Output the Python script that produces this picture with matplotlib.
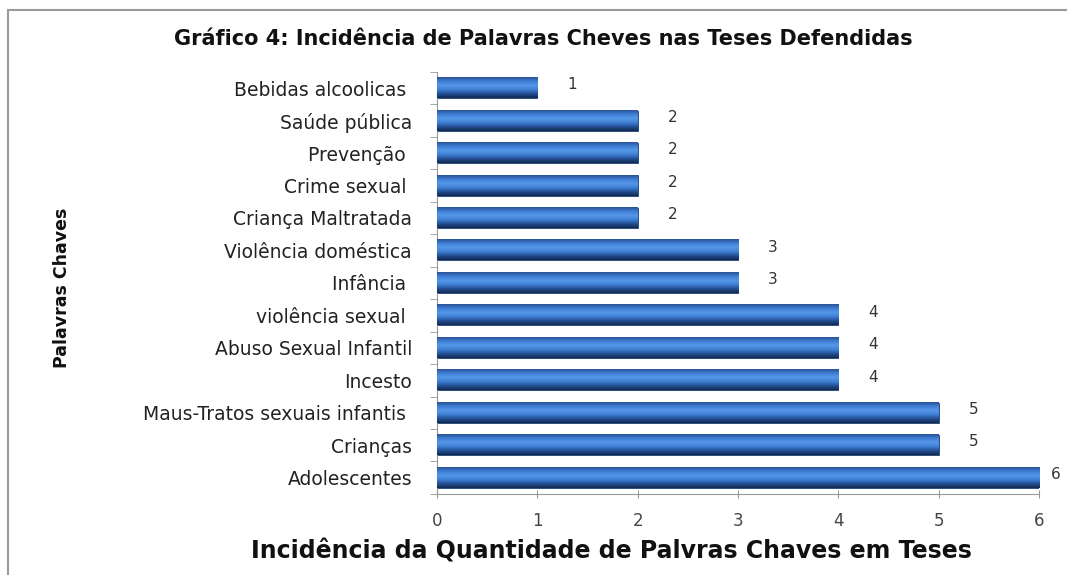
import numpy as np
import matplotlib.pyplot as plt
from matplotlib.patches import Rectangle
from matplotlib.colors import LinearSegmentedColormap

# keywords from top to bottom as in the chart
keywords = [
    "Bebidas alcoolicas ",
    "Saúde pública",
    "Prevenção ",
    "Crime sexual ",
    "Criança Maltratada",
    "Violência doméstica",
    "Infância ",
    "violência sexual ",
    "Abuso Sexual Infantil",
    "Incesto",
    "Maus-Tratos sexuais infantis ",
    "Crianças",
    "Adolescentes",
]
counts = [1, 2, 2, 2, 2, 3, 3, 4, 4, 4, 5, 5, 6]
x_ticks = [0, 1, 2, 3, 4, 5, 6]

fig = plt.figure(figsize=(10.67, 5.75), dpi=100)
ax = fig.add_axes([0.4096, 0.141, 0.5642, 0.734])

# chart frame
fig.patches.append(Rectangle((0.0075, -0.01), 1.2, 0.993, transform=fig.transFigure,
                             fill=False, edgecolor="#9a9a9a", linewidth=1.5))

y_pos = np.arange(len(keywords))
bars = ax.barh(y_pos, counts, height=0.62, color="#2f6bc0", edgecolor="#1c3f73",
               linewidth=0.6, zorder=2)

# glossy vertical gradient on each bar
cmap = LinearSegmentedColormap.from_list(
    "bar_grad", ["#2a5294", "#3f7fd6", "#5497e8", "#3f7fd3", "#234f93", "#12294f"])
grad = np.linspace(0, 1, 64).reshape(-1, 1)
for bar in bars:
    x0, y0 = bar.get_x(), bar.get_y()
    w, h = bar.get_width(), bar.get_height()
    ax.imshow(grad, cmap=cmap, aspect="auto", extent=(x0, x0 + w, y0 + h, y0),
              zorder=3, interpolation="bilinear")

ax.set_ylim(len(keywords) - 0.5, -0.5)
ax.set_xlim(0, 6)

# value labels, kept inside the figure for the longest bar
for i, v in enumerate(counts):
    ax.text(min(v + 0.3, 6.12), i - 0.1, str(v), ha="left", va="center",
            fontsize=11, color="#333333", clip_on=False)

ax.set_yticks(y_pos)
ax.set_yticklabels(keywords, fontsize=13.5, color="#222222")
ax.set_yticks(np.arange(-0.5, len(keywords), 1), minor=True)
ax.tick_params(axis="y", which="major", length=0, pad=18)
ax.tick_params(axis="y", which="minor", length=5, color="#999999", direction="out")

ax.set_xticks(x_ticks)
ax.set_xticklabels([str(t) for t in x_ticks], fontsize=12, color="#444444")
ax.tick_params(axis="x", length=6, color="#999999", direction="inout", pad=10)

for side in ["top", "right"]:
    ax.spines[side].set_visible(False)
for side in ["left", "bottom"]:
    ax.spines[side].set_color("#999999")

fig.text(0.509, 0.933, "Gráfico 4: Incidência de Palavras Cheves nas Teses Defendidas",
         ha="center", va="center", fontsize=15, fontweight="bold", color="#111111")
fig.text(0.573, 0.04, "Incidência da Quantidade de Palvras Chaves em Teses",
         ha="center", va="center", fontsize=17, fontweight="bold", color="#111111")
fig.text(0.058, 0.50, "Palavras Chaves", ha="center", va="center", rotation=90,
         fontsize=12.5, fontweight="bold", color="#111111")

fig.savefig("out.png", dpi=100)
